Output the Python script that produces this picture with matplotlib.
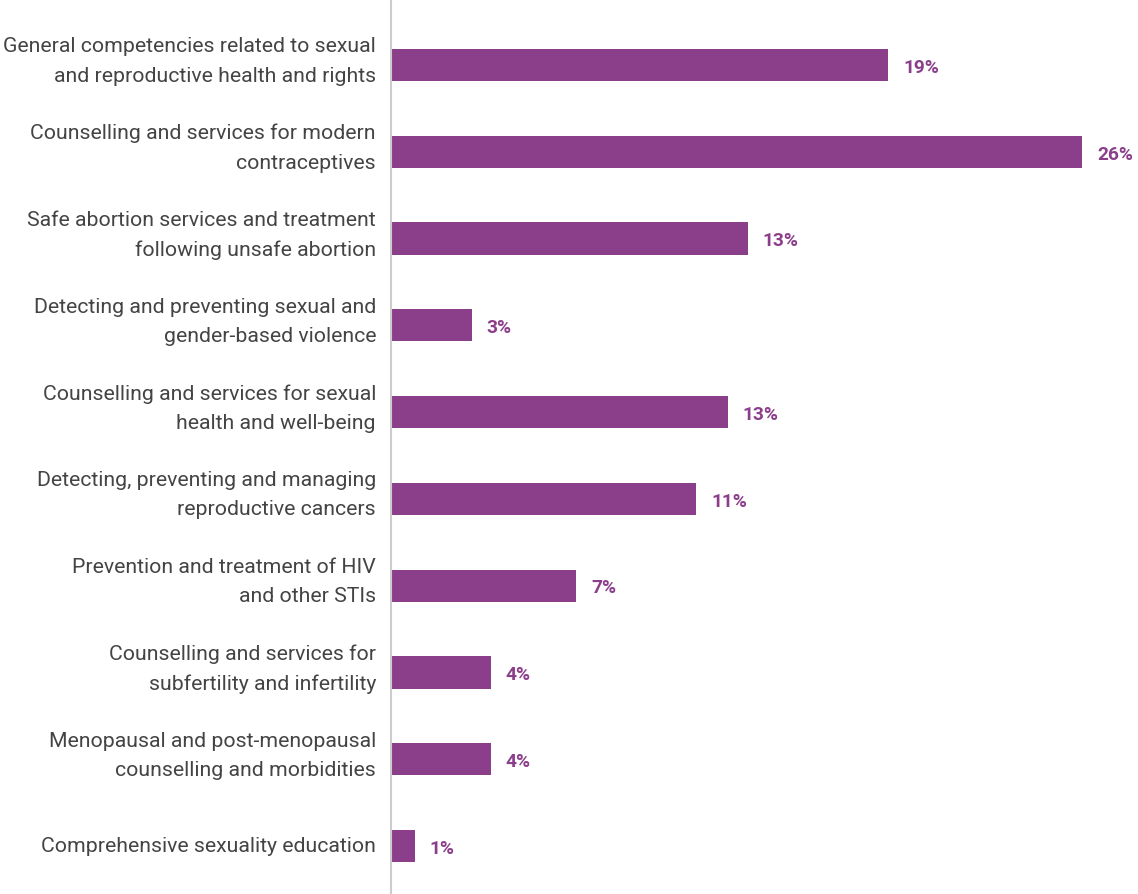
import matplotlib
matplotlib.use("Agg")
import matplotlib.pyplot as plt
import matplotlib.transforms as mtransforms

categories = [
    "General competencies related to sexual\nand reproductive health and rights",
    "Counselling and services for modern\ncontraceptives",
    "Safe abortion services and treatment\nfollowing unsafe abortion",
    "Detecting and preventing sexual and\ngender-based violence",
    "Counselling and services for sexual\nhealth and well-being",
    "Detecting, preventing and managing\nreproductive cancers",
    "Prevention and treatment of HIV\nand other STIs",
    "Counselling and services for\nsubfertility and infertility",
    "Menopausal and post-menopausal\ncounselling and morbidities",
    "Comprehensive sexuality education",
]
shares = [18.65, 25.94, 13.38, 3.0, 12.63, 11.43, 6.92, 3.72, 3.72, 0.86]

BAR_COLOR = "#8b3f8b"
TEXT_COLOR = "#444444"

plt.rcParams["font.family"] = ["Roboto", "DejaVu Sans"]

W, H = 1138, 895
fig = plt.figure(figsize=(W / 100, H / 100), dpi=100)
x0 = 391 / W
ax = fig.add_axes([x0, 0, 1 - x0, 1])

pos = list(range(len(categories)))
ax.barh(pos, shares, height=0.37, color=BAR_COLOR, left=0.03)

for y, v in zip(pos, shares):
    ax.text(v + 0.6, y + 0.02, f"{v:.0f}%", va="center", ha="left",
            fontsize=13.8, fontweight="bold", color=BAR_COLOR)

# category labels: right-aligned left of the axis line, nudged to sit
# on the bar's centre line
label_tf = mtransforms.blended_transform_factory(ax.transAxes, ax.transData)
for y, lab in zip(pos, categories):
    nlines = lab.count("\n") + 1
    dy = (1 + 3.5 * (nlines - 1)) / 100.0
    tf = label_tf + mtransforms.ScaledTranslation(-15 / 100.0, dy,
                                                  fig.dpi_scale_trans)
    ax.text(0, y, lab, transform=tf, ha="right", va="center",
            multialignment="right", fontsize=15.3, color=TEXT_COLOR,
            linespacing=1.68)

ax.set_yticks([])
ax.set_xticks([])

ax.set_xlim(0, (W - 391) / 26.6)
ax.set_ylim(9 + 48 / 86.8, -66 / 86.8)

for side in ("top", "right", "bottom"):
    ax.spines[side].set_visible(False)
ax.spines["left"].set_color("#cccccc")
ax.spines["left"].set_linewidth(1.5)

fig.savefig("out.png", dpi=100)
